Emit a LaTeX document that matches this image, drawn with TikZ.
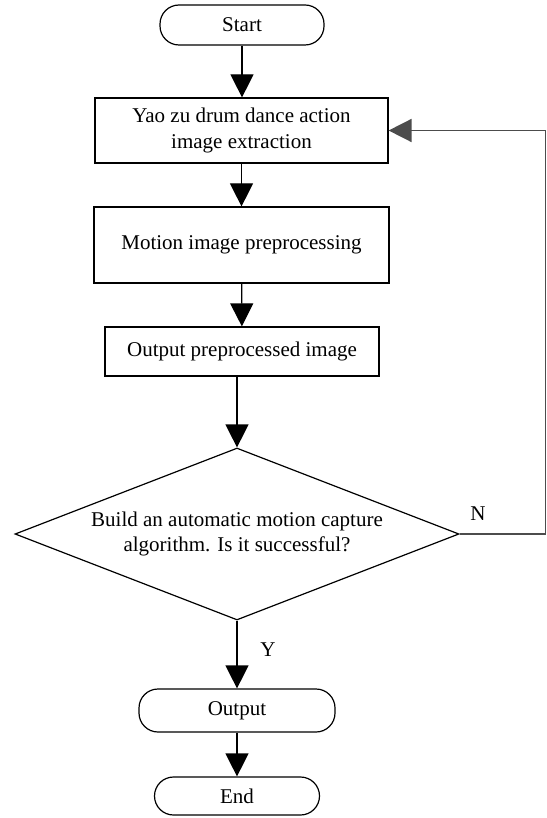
\documentclass[tikz,border=0pt]{standalone}
\usepackage{fontspec}
\setmainfont{Liberation Serif}
\usepackage{tikz}
\usetikzlibrary{positioning, shapes.geometric, arrows.meta}

\begin{document}
\begin{tikzpicture}[x = 1pt, y = -1pt, line width = 1.2pt,
        font = \fontsize{21}{25.5}\selectfont,
        Box/.style = {rectangle, draw = black, align = center, inner sep = 0pt},
        Term/.style = {rectangle, rounded corners = 19pt, draw = black, inner sep = 0pt},
        Test/.style = {diamond, draw = black, align = center, inner sep = 0pt, aspect = 2.58},
        Flow/.style = {-{Triangle[width = 23pt, length = 23pt]}},
        Back/.style = {draw = black!70, line width = 1.6pt, -{Triangle[width = 23pt, length = 23pt]}}]
        \useasboundingbox (0,0) rectangle (546,818);
        \node [Term, minimum width = 164pt, minimum height = 40pt] (1) at (242,25) {Start};
        \node [Box, minimum width = 293pt, minimum height = 65pt] (2) at (241.5,130.5) {Yao zu drum dance action\\image extraction};
        \node [Box, minimum width = 295pt, minimum height = 76pt] (3) at (241.5,245) {Motion image preprocessing};
        \node [Box, minimum width = 274pt, minimum height = 49pt] (4) at (242,351.5) {Output preprocessed image};
        \node [Test, minimum width = 444pt, minimum height = 172pt] (5) at (237,534) {Build an automatic motion capture\\algorithm. Is it successful?};
        \node [Term, minimum width = 196pt, minimum height = 43pt] (6) at (237,710.5) {Output};
        \node [Term, minimum width = 165pt, minimum height = 38pt] (7) at (237,796) {End};
        % yes / no labels
        \node (8) at (478,514) {N};
        \node (9) at (268,650) {Y};
        \draw [Flow] (1) -- (2.north -| 1);
        \draw [Flow] (2) -- (3);
        \draw [Flow] (3) -- (4);
        \draw [Flow] (4.south -| 5) -- (5);
        \draw [Flow] (5) -- (6);
        \draw [Flow] (6) -- (7);
        \draw [Back] (5.east) -- ++(86,0) |- (2.east);
    \end{tikzpicture}
\end{document}
